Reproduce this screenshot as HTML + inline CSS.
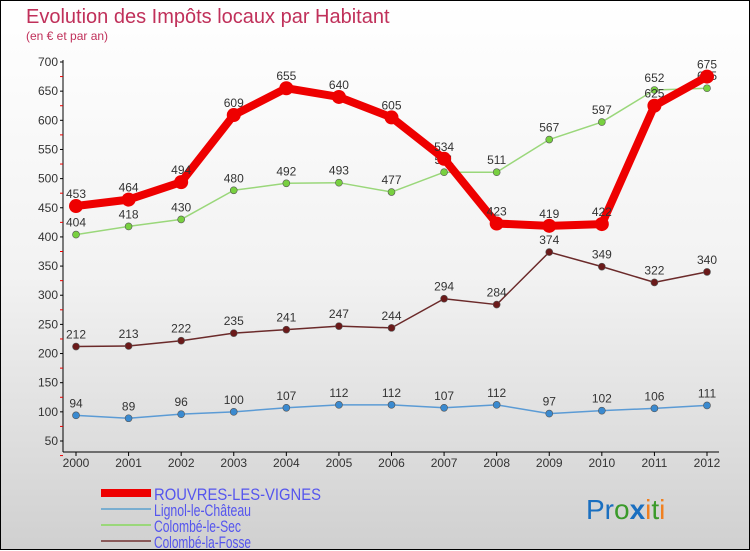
<!DOCTYPE html>
<html><head><meta charset="utf-8"><style>
html,body{margin:0;padding:0}
body{width:750px;height:550px;overflow:hidden;font-family:"Liberation Sans",sans-serif}
#wrap{position:relative;width:748px;height:548px;border:1px solid #000;background:linear-gradient(#ffffff 0%,#f2f2f2 50%,#d0d0d0 100%)}
svg{position:absolute;left:0;top:0}
</style></head><body>
<div id="wrap">
<svg id="chart" width="750" height="550">
<text x="25" y="22" font-size="20" fill="#c0305a">Evolution des Impôts locaux par Habitant</text>
<text x="25" y="39" font-size="12" fill="#c0305a">(en € et par an)</text>
<g id="axes"></g><g id="series"></g><g id="legend"></g>
<text x="585" y="518" font-size="28"><tspan fill="#1a6fc0">Pr</tspan><tspan fill="#3a9a2a">o</tspan><tspan fill="#1a6fc0" font-weight="bold">x</tspan><tspan fill="#f08020">i</tspan><tspan fill="#3a9a2a">t</tspan><tspan fill="#f08020">i</tspan></text>
</svg>
</div>
<script>
const years=[2000,2001,2002,2003,2004,2005,2006,2007,2008,2009,2010,2011,2012];
const yTicks=[50,100,150,200,250,300,350,400,450,500,550,600,650,700];
const rouvres=[453,464,494,609,655,640,605,534,423,419,422,625,675];
const lignol=[94,89,96,100,107,112,112,107,112,97,102,106,111];
const colombeSec=[404,418,430,480,492,493,477,511,511,567,597,652,655];
const colombeFosse=[212,213,222,235,241,247,244,294,284,374,349,322,340];
const NS='http://www.w3.org/2000/svg';
function X(i){return 75+i*(706-75)/12;}
function Y(v){return 61+(700-v)*(440-61)/650;}
function mk(tag,attrs,parent){const e=document.createElementNS(NS,tag);for(const k in attrs)e.setAttribute(k,attrs[k]);parent.appendChild(e);return e;}
const ax=document.getElementById('axes');
let a=mk('line',{x1:62,y1:59,x2:62,y2:451,stroke:'#000','stroke-width':1},ax);

a=mk('line',{x1:62,y1:451,x2:718,y2:451,stroke:'#000','stroke-width':1},ax);

yTicks.forEach(v=>{
 mk('line',{x1:59,y1:Y(v),x2:62,y2:Y(v),stroke:'#000'},ax);
 mk('line',{x1:59,y1:Y(v-25),x2:62,y2:Y(v-25),stroke:'#e00'},ax);
 const t=mk('text',{x:57,y:Y(v)+4,'font-size':12,'text-anchor':'end',fill:'#333'},ax);t.textContent=v;
 
});
years.forEach((yr,i)=>{
 mk('line',{x1:X(i),y1:451,x2:X(i),y2:455,stroke:'#000'},ax);
 const t=mk('text',{x:X(i),y:466,'font-size':12,'text-anchor':'middle',fill:'#333'},ax);t.textContent=yr;
 
});
const sg=document.getElementById('series');
function draw(data,color,w,r,dot,name){
 const g=mk('g',{},sg);
 
 mk('polyline',{points:data.map((v,i)=>X(i)+','+Y(v)).join(' '),fill:'none',stroke:color,'stroke-width':w,'stroke-linejoin':'round'},g);
 data.forEach((v,i)=>{
  const c=mk('circle',{cx:X(i),cy:Y(v),r:r,fill:dot,stroke:'#555','stroke-width':r>4?0:0.6},g);
  
  const t=mk('text',{x:X(i),y:Y(v)-8,'font-size':12,'text-anchor':'middle',fill:'#333'},g);t.textContent=v;
  
 });
}
draw(lignol,'#5b9bd5',1.5,3.5,'#3a8ad0','series-lignol');
draw(colombeFosse,'#6b2a2a',1.5,3.5,'#6b1a1a','series-colombe-la-fosse');
draw(colombeSec,'#9ad77a',1.5,3.5,'#78d040','series-colombe-le-sec');
draw(rouvres,'#ee0000',8,7,'#ee0000','series-rouvres');
const lg=document.getElementById('legend');
const names=['ROUVRES-LES-VIGNES','Lignol-le-Château','Colombé-le-Sec','Colombé-la-Fosse'];
const cols=['#ee0000','#7aaed0','#9ad77a','#8a5a5a'];
const ws=[8,2,2,2];
const lens=[167,97,87,97];
names.forEach((n,i)=>{
 const y=492+i*16;
 const l=mk('line',{x1:100,y1:y,x2:150,y2:y,stroke:cols[i],'stroke-width':ws[i]},lg);
 
 const t=mk('text',{x:153,y:y+7,'font-size':17,fill:'#5555ee',textLength:lens[i],lengthAdjust:'spacingAndGlyphs'},lg);
 t.textContent=n;
 
});
</script>
</body></html>
